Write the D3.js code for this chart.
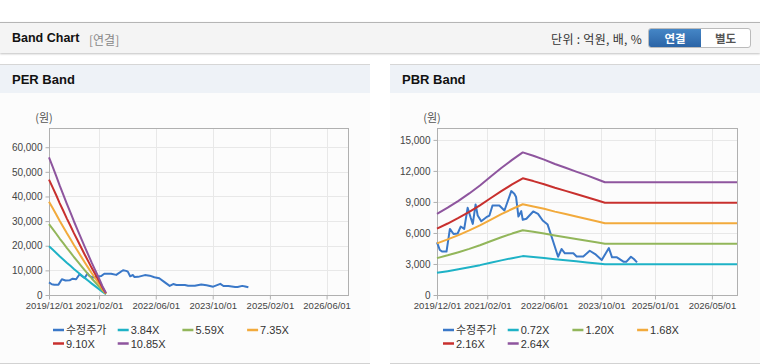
<!DOCTYPE html>
<meta charset="utf-8">
<style>
body{ margin:0; background:#fff; font-family:"Liberation Sans", Arial, "Noto Sans CJK KR", sans-serif; }
#wrap{ position:relative; width:760px; height:364px; overflow:hidden; }
.topbar{ position:absolute; left:0; top:22px; width:760px; height:30px; background:#f4f4f4; border-top:1px solid #b5b5b5; box-shadow:0 1px 2px rgba(0,0,0,0.25); }
.topbar .title{ position:absolute; left:12px; top:8px; font-size:12.5px; font-weight:bold; color:#111; }
.topbar .sub{ position:absolute; left:89px; top:8px; font-size:12px; color:#888; font-family:"Noto Sans CJK KR", sans-serif; }
.topbar .unit{ position:absolute; right:118px; top:7px; font-size:12px; color:#333; font-family:"Noto Sans CJK KR", sans-serif; letter-spacing:0.3px; }
.btns{ position:absolute; left:648px; top:5px; width:101px; height:18px; border:1px solid #bbb; border-radius:3px; overflow:hidden; background:#fff; }
.btns div{ position:absolute; top:0; height:18px; line-height:18px; text-align:center; font-size:11.5px; font-weight:bold; font-family:"Noto Sans CJK KR", sans-serif; }
.btns .on{ left:0; width:52px; background:linear-gradient(#4586c6,#2b64a6); color:#fff; }
.btns .off{ left:52px; width:49px; color:#555; }
.panel{ position:absolute; top:64px; width:370px; height:298px; background:#fcfcfc; border-top:1px solid #d6d6d6; border-bottom:1px solid #d2d2d2; }
.panel .head{ height:28px; background:#eef2f7; }
.panel .head span{ position:absolute; left:12px; top:7px; font-size:13px; font-weight:bold; color:#111; }
svg{ position:absolute; left:0; top:0; }
</style>
<body>
<div id="wrap">
	<div class="topbar">
		<span class="title">Band Chart</span><span class="sub">[연결]</span>
		<span class="unit">단위 : 억원, 배, %</span>
		<div class="btns"><div class="on">연결</div><div class="off">별도</div></div>
	</div>
	<div class="panel" style="left:0"><div class="head"><span>PER Band</span></div></div>
	<div class="panel" style="left:390px"><div class="head"><span>PBR Band</span></div></div>
	<svg id="chart" width="760" height="364"></svg>
</div>
<script src="https://d3js.org/d3.v7.min.js" charset="utf-8"></script>
<script>
// 수정주가 (both charts use the same price series)
var priceDates = ["2019/12/01","2019/12/25","2020/01/15","2020/02/20","2020/03/20","2020/04/20","2020/05/25","2020/06/20","2020/07/20","2020/08/18",
	"2020/09/12","2020/10/01","2020/10/25","2020/11/12","2020/12/12","2021/01/25","2021/02/20","2021/03/18","2021/05/15","2021/06/28",
	"2021/08/25","2021/09/20","2021/10/05","2021/10/25","2021/11/18","2021/12/01","2022/01/01","2022/02/28","2022/04/10","2022/05/20",
	"2022/07/01","2022/08/15","2022/09/28","2022/10/28","2022/11/25","2023/02/05","2023/03/05","2023/05/01","2023/06/25","2023/08/10",
	"2023/10/05","2023/12/05","2024/01/01","2024/02/12","2024/04/10","2024/05/01","2024/06/10","2024/07/05","2024/08/01"];
var priceValues = [5090,4350,4200,4200,6390,5900,5950,6620,6390,8430,
	7520,6880,8760,7680,7130,7520,7680,8660,8660,8170,
	10050,9790,9470,7590,8110,7270,7370,8080,7850,7200,
	6810,5250,3700,4450,4030,4030,3730,3730,4280,3960,
	3380,4540,3640,3640,3210,3210,3700,3480,3150];

// PER band
var perDates = ["2019/12/01","2020/01/01","2020/02/01","2020/03/01","2020/04/01","2020/05/01","2020/06/01","2020/07/01","2020/08/01",
	"2020/09/01","2020/10/01","2020/11/01","2020/12/01","2021/01/01","2021/02/01","2021/03/01","2021/04/01"];
var perNames = ["3.84X","5.59X","7.35X","9.10X","10.85X"];
var per384 = [19776,18432,17088,15744,14438,13133,11866,10598,9370,8141,6950,5760,4608,3494,2381,1306,307];
var per559 = [28789,26832,24876,22919,21018,19118,17273,15428,13640,11851,10118,8385,6708,5087,3466,1901,447];
var per735 = [37853,35280,32708,30135,27636,25137,22712,20286,17934,15582,13304,11025,8820,6689,4557,2499,588];
var per910 = [46865,43680,40495,37310,34216,31122,28119,25116,22204,19292,16471,13650,10920,8281,5642,3094,728];
var per1085 = [55878,52080,48283,44485,40796,37107,33527,29946,26474,23002,19639,16275,13020,9874,6727,3689,868];
var perTicksY = [0,10000,20000,30000,40000,50000,60000];
var perTicksX = ["2019/12/01","2021/02/01","2022/06/01","2023/10/01","2025/02/01","2026/06/01"];

// PBR band
var pbrDates = ["2019/12/01","2020/03/01","2020/06/01","2020/09/01","2020/12/01","2021/03/01","2021/06/01","2021/09/01","2021/12/01",
	"2022/03/01","2022/06/01","2022/09/01","2022/12/01","2023/03/01","2023/06/01","2023/09/01","2023/11/01","2026/12/01"];
var pbrNames = ["0.72X","1.20X","1.68X","2.16X","2.64X"];
var pbr072 = [2141,2304,2484,2678,2887,3118,3348,3564,3761,3672,3571,3456,3355,3254,3154,3046,2974,2974];
var pbr120 = [3568,3840,4140,4464,4812,5196,5580,5940,6268,6120,5952,5760,5592,5424,5256,5076,4956,4956];
var pbr168 = [4995,5376,5796,6250,6737,7274,7812,8316,8775,8568,8333,8064,7829,7594,7358,7106,6938,6938];
var pbr216 = [6422,6912,7452,8035,8662,9353,10044,10692,11282,11016,10714,10368,10066,9763,9461,9137,8921,8921];
var pbr264 = [7849,8448,9108,9821,10586,11431,12276,13068,13789,13464,13094,12672,12302,11933,11563,11167,10903,10903];
var pbrTicksY = [0,3000,6000,9000,12000,15000];
var pbrTicksX = ["2019/12/01","2021/02/01","2022/06/01","2023/10/01","2025/01/01","2026/05/01"];

var colors = ["#3a78c8","#1eb2c6","#92b65a","#f2aa3c","#c8302e","#8e559e"];
var parse = d3.timeParse("%Y/%m/%d");
var svg = d3.select("#chart");

function drawBand(o){
	var x = d3.scaleTime().domain([parse("2019/12/01"), parse("2026/12/01")]).range([o.left, o.right]);
	var y = d3.scaleLinear().domain([0, o.ymax]).range([o.bottom, o.top]);
	var g = svg.append("g");

	// grid
	g.selectAll(".hg").data(o.ticksY).enter().append("line")
		.attr("x1", o.left).attr("x2", o.right)
		.attr("y1", function(d){ return Math.round(y(d))+0.5; }).attr("y2", function(d){ return Math.round(y(d))+0.5; })
		.attr("stroke", "#e8e8e8");
	g.selectAll(".vg").data(o.ticksX).enter().append("line")
		.attr("x1", function(d){ return Math.round(x(parse(d)))+0.5; }).attr("x2", function(d){ return Math.round(x(parse(d)))+0.5; })
		.attr("y1", o.top).attr("y2", o.bottom)
		.attr("stroke", "#e8e8e8");
	g.append("rect").attr("x", o.left+0.5).attr("y", o.top+0.5)
		.attr("width", o.right-o.left).attr("height", o.bottom-o.top)
		.attr("fill", "none").attr("stroke", "#b0b0b0");

	// axes
	var ya = g.append("g").attr("transform", "translate("+(o.left+0.5)+",0)")
		.call(d3.axisLeft(y).tickValues(o.ticksY).tickFormat(d3.format(",")).tickSize(4).tickPadding(3));
	var xa = g.append("g").attr("transform", "translate(0,"+(o.bottom+0.5)+")")
		.call(d3.axisBottom(x).tickValues(o.ticksX.map(parse)).tickFormat(d3.timeFormat("%Y/%m/%d")).tickSize(4).tickPadding(3));
	[ya, xa].forEach(function(a){
		a.select(".domain").remove();
		a.selectAll("line").attr("stroke", "#b0b0b0");
		a.selectAll("text").attr("fill", "#444").style("font-size", "10px").style("font-family", "'Liberation Sans', Arial");
	});
	xa.selectAll("text").style("font-size", "9.5px");

	g.append("text").attr("x", o.left-5).attr("y", o.top-6).attr("text-anchor", "middle")
		.attr("fill", "#555").style("font-size", "11px").style("font-family", "'Noto Sans CJK KR'").text("(원)");

	// lines
	var line = d3.line().x(function(d){ return x(d[0]); }).y(function(d){ return y(d[1]); });
	g.append("path").datum(priceDates.map(function(d,i){ return [parse(d), priceValues[i]]; }))
		.attr("d", line).attr("fill", "none").attr("stroke", colors[0]).attr("stroke-width", 2).attr("stroke-linejoin", "round");
	o.bands.forEach(function(b, k){
		g.append("path").datum(o.dates.map(function(d,i){ return [parse(d), b[i]]; }))
			.attr("d", line).attr("fill", "none").attr("stroke", colors[k+1]).attr("stroke-width", 2).attr("stroke-linejoin", "round");
	});

	// legend
	var names = ["수정주가"].concat(o.names);
	var lg = g.selectAll(".lg").data(names).enter().append("g")
		.attr("transform", function(d,i){ return "translate("+(o.legendX + (i%4)*64.7)+","+(330 + Math.floor(i/4)*13.5)+")"; });
	lg.append("line").attr("x1", 0).attr("x2", 11).attr("y1", 0).attr("y2", 0)
		.attr("stroke", function(d,i){ return colors[i]; }).attr("stroke-width", 2.5);
	lg.append("text").attr("x", 13).attr("y", 4).attr("fill", "#333")
		.style("font-size", "11px").style("font-family", "'Liberation Sans', 'Noto Sans CJK KR'")
		.text(function(d){ return d; });
}

drawBand({left:49, right:348, top:128, bottom:295, ymax:67800, ticksY:perTicksY, ticksX:perTicksX,
	dates:perDates, bands:[per384, per559, per735, per910, per1085], names:perNames, legendX:53});
drawBand({left:437, right:737, top:128, bottom:295, ymax:16150, ticksY:pbrTicksY, ticksX:pbrTicksX,
	dates:pbrDates, bands:[pbr072, pbr120, pbr168, pbr216, pbr264], names:pbrNames, legendX:443});
</script>
</body>
